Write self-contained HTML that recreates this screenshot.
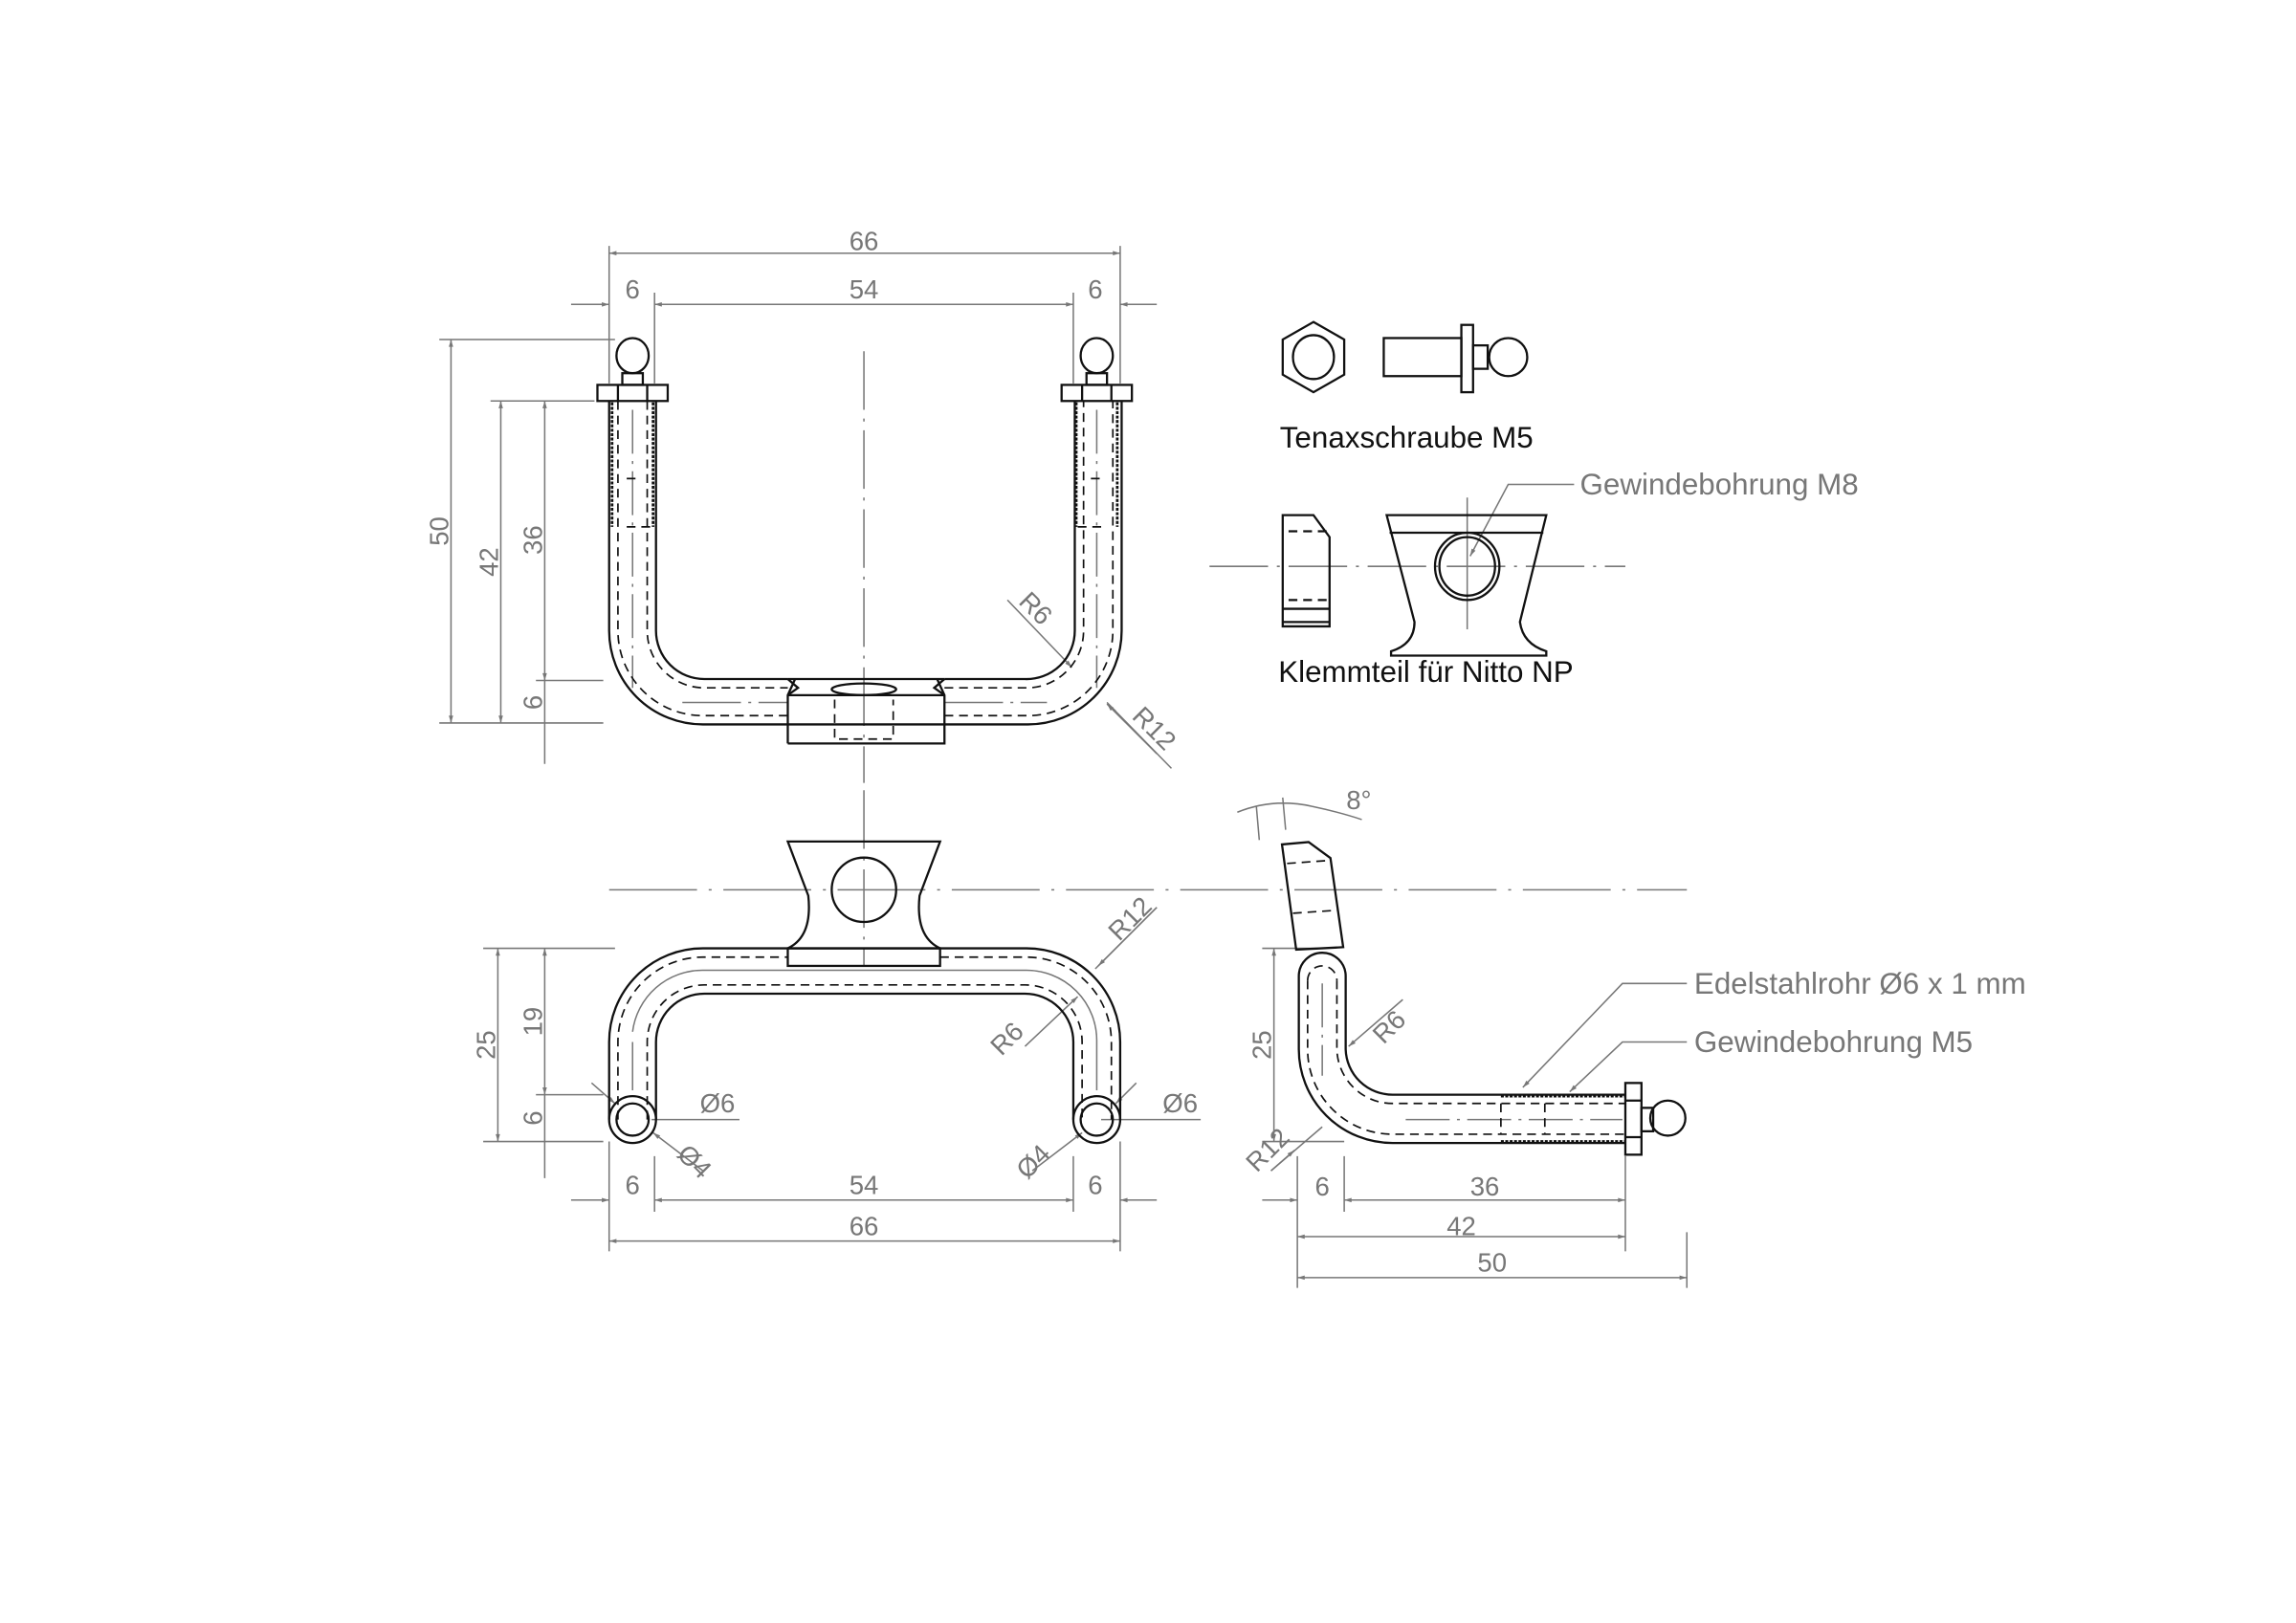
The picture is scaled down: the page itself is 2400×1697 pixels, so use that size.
<!DOCTYPE html>
<html><head><meta charset="utf-8"><style>
html,body{margin:0;padding:0;background:#fff;}
svg{display:block;}
text{font-family:"Liberation Sans",sans-serif;}
</style></head><body>
<svg width="2400" height="1697" viewBox="0 0 1568 1109" preserveAspectRatio="none" xmlns="http://www.w3.org/2000/svg">
<defs>
<marker id="a" viewBox="0 0 10 10" refX="10" refY="5" markerWidth="10" markerHeight="5" orient="auto-start-reverse" markerUnits="userSpaceOnUse"><path d="M0,2 L10,5 L0,8z" fill="#777"/></marker>
</defs>
<rect width="1568" height="1109" fill="#fff"/>
<g fill="none" stroke="#777" stroke-width="1">
<path d="M590,240 V535 M590,540 V660" stroke-dasharray="40,6,2,6"/>
<path d="M416,608 H1152" stroke-dasharray="60,8,2,8"/>
<path d="M826,387 H1110" stroke-dasharray="40,6,2,6"/>
<path d="M1002,340 V430"/>
<path d="M432,280 V470 M749,280 V470" stroke-dasharray="30,5,2,5"/>
<path d="M466,480 H538 M645,480 H715" stroke-dasharray="40,5,2,5"/>
<path d="M903,672 V735 M960,765 H1108" stroke-dasharray="30,5,2,5"/>
<path d="M432,705 A48 48 0 0 1 480 663 H700 A48 48 0 0 1 749 712 M432,712 V745 M749,712 V745"/>
</g>

<g stroke="#777" stroke-width="1" fill="none">
<path d="M416,168 V262 M765,168 V262 M447,200 V262 M733,200 V262"/>
<path d="M416,173 H765" marker-start="url(#a)" marker-end="url(#a)"/>
<path d="M390,208 H416" marker-end="url(#a)"/><path d="M447,208 H733" marker-start="url(#a)" marker-end="url(#a)"/><path d="M765,208 H790" marker-start="url(#a)"/>
<path d="M300,232 H420 M335,274 H406 M366,465 H412 M300,494 H412"/>
<path d="M308,232 V494" marker-start="url(#a)" marker-end="url(#a)"/>
<path d="M342,274 V494" marker-start="url(#a)" marker-end="url(#a)"/>
<path d="M372,274 V465" marker-start="url(#a)" marker-end="url(#a)"/>
<path d="M372,465 V494 M372,494 V522"/>
<path d="M688,410 L732,456" marker-end="url(#a)"/>
<path d="M756,480 L800,525 M756,480 L762,486" />
<path d="M790,515 L756,481" marker-end="url(#a)"/>
<path d="M330,648 H420 M366,748 H412 M330,780 H412"/>
<path d="M340,648 V780" marker-start="url(#a)" marker-end="url(#a)"/>
<path d="M372,648 V748" marker-start="url(#a)" marker-end="url(#a)"/>
<path d="M372,748 V780 M372,780 V805"/>
<path d="M416,780 V855 M765,780 V855 M447,790 V828 M733,790 V828"/>
<path d="M390,820 H416" marker-end="url(#a)"/><path d="M447,820 H733" marker-start="url(#a)" marker-end="url(#a)"/><path d="M765,820 H790" marker-start="url(#a)"/>
<path d="M416,848 H765" marker-start="url(#a)" marker-end="url(#a)"/>
<path d="M790,620 L748,662" /><path d="M790,620 L750,660" marker-end="url(#a)"/>
<path d="M700,715 L736,681" marker-end="url(#a)"/>
<path d="M404,740 L420,754" marker-end="url(#a)"/>
<path d="M480,800 L446,774" marker-end="url(#a)"/>
<path d="M705,800 L739,774" marker-end="url(#a)"/>
<path d="M776,740 L762,754" marker-end="url(#a)"/>
<path d="M445,765 H505 M752,765 H820"/>
<path d="M862,648 H905 M862,780 H918"/>
<path d="M870,648 V780" marker-start="url(#a)" marker-end="url(#a)"/>
<path d="M886,790 V880 M918,790 V828 M1110,790 V855 M1152,842 V880"/>
<path d="M862,820 H886" marker-end="url(#a)"/><path d="M918,820 H1110" marker-start="url(#a)" marker-end="url(#a)"/>
<path d="M886,845 H1110" marker-start="url(#a)" marker-end="url(#a)"/>
<path d="M886,873 H1152" marker-start="url(#a)" marker-end="url(#a)"/>
<path d="M958,683 L921,715" marker-end="url(#a)"/>
<path d="M868,800 L903,770"/><path d="M868,800 L884,786" marker-end="url(#a)"/>
<path d="M845,555 Q870,545 896,551 M858,551 L860,574 M876,545 L878,567 M896,551 Q915,555 930,560"/>
<path d="M1152,672 H1108 L1040,743" marker-end="url(#a)"/>
<path d="M1152,712 H1108 L1072,746" marker-end="url(#a)"/>
<path d="M1075,331 H1030 L1004,380" marker-end="url(#a)"/>
</g>

<g fill="#777" font-size="18" text-anchor="middle">
<text x="590" y="171">66</text>
<text x="432" y="204">6</text><text x="590" y="204">54</text><text x="748" y="204">6</text>
<text transform="translate(306,363) rotate(-90)">50</text>
<text transform="translate(340,384) rotate(-90)">42</text>
<text transform="translate(370,369) rotate(-90)">36</text>
<text transform="translate(370,480) rotate(-90)">6</text>
<text transform="translate(703,420) rotate(45)">R6</text>
<text transform="translate(784,502) rotate(45)">R12</text>
<text transform="translate(338,714) rotate(-90)">25</text>
<text transform="translate(370,698) rotate(-90)">19</text>
<text transform="translate(370,764) rotate(-90)">6</text>
<text x="432" y="816">6</text><text x="590" y="816">54</text><text x="748" y="816">6</text>
<text x="590" y="844">66</text>
<text transform="translate(776,632) rotate(-45)">R12</text>
<text transform="translate(692,714) rotate(-45)">R6</text>
<text transform="translate(470,798) rotate(45)">Ø4</text>
<text transform="translate(710,798) rotate(-45)">Ø4</text>
<text x="490" y="760">Ø6</text><text x="806" y="760">Ø6</text>
<text transform="translate(868,714) rotate(-90)">25</text>
<text transform="translate(953,706) rotate(-45)">R6</text>
<text transform="translate(870,790) rotate(-45)">R12</text>
<text x="903" y="817">6</text><text x="1014" y="817">36</text>
<text x="998" y="844">42</text><text x="1019" y="869">50</text>
<text x="928" y="553">8°</text>
</g>
<g fill="#777" font-size="20.5">
<text x="1079" y="338">Gewindebohrung M8</text>
<text x="1157" y="679">Edelstahlrohr Ø6 x 1 mm</text>
<text x="1157" y="719">Gewindebohrung M5</text>
</g>
<g fill="#111" font-size="20.5">
<text x="874" y="306">Tenaxschraube M5</text>
<text x="873" y="466">Klemmteil für Nitto NP</text>
</g>

<g fill="none" stroke="#111" stroke-width="1.5">
<path d="M416,274 V431 A64,64 0 0 0 480,495 H538 M645,495 H702 A64,64 0 0 0 766,431 V274"/>
<path d="M448,274 V431 A33,33 0 0 0 481,464 H538 M645,464 H700 A33,33 0 0 0 734,431 V274"/>
<rect x="408" y="263" width="48" height="11"/><path d="M422,263 V274 M442,263 V274"/>
<rect x="425" y="255" width="14" height="8"/><ellipse cx="432" cy="243" rx="11" ry="12"/>
<rect x="725" y="263" width="48" height="11"/><path d="M739,263 V274 M759,263 V274"/>
<rect x="742" y="255" width="14" height="8"/><ellipse cx="749" cy="243" rx="11" ry="12"/>
<path d="M538,464 H645 M538,508 H645 V475 L640,464 M538,508 V475 L543,464 M538,475 H645 M538,495 H645"/>
<path d="M538,464 L545,470 L538,475 M645,464 L638,470 L645,475"/>
<ellipse cx="590" cy="471" rx="22" ry="4"/>
<polygon points="897,220 918,232 918,256 897,268 876,256 876,232"/>
<ellipse cx="897" cy="244" rx="14" ry="15"/>
<rect x="945" y="231" width="53" height="26"/>
<rect x="998" y="222" width="8" height="46"/>
<rect x="1006" y="236" width="10" height="16"/>
<circle cx="1030" cy="244" r="13"/>
<path d="M876,352 H897 L908,367 V428 H876 Z M876,416 H908 M876,425 H908"/>
<path d="M880,363 H906 M880,410 H906" stroke-dasharray="6,4"/>
<path d="M947,352 H1056 L1038,425 Q1040,440 1056,445 V448 H950 V445 Q966,440 966,425 Z M949,364 H1054"/>
<ellipse cx="1002" cy="387" rx="22" ry="23"/><ellipse cx="1002" cy="387" rx="19" ry="20"/>
<path d="M538,575 H642 L628,612 Q625,640 642,648 H538 Q555,640 552,612 Z"/>
<rect x="538" y="648" width="104" height="12"/>
<circle cx="590" cy="608" r="22"/>
<path d="M416,765 V712 A64,64 0 0 1 480,648 H538 M642,648 H700 A64,64 0 0 1 765,712 V765"/>
<path d="M448,765 V712 A33,33 0 0 1 481,679 H700 A33,33 0 0 1 733,712 V765"/>
<circle cx="432" cy="765" r="16"/><circle cx="432" cy="765" r="11"/>
<circle cx="749" cy="765" r="16"/><circle cx="749" cy="765" r="11"/>
<path d="M875.5,577 L893.7,575.4 L908.6,586.3 L917.3,647.2 L885.2,648.9 Z"/>
<path d="M887,667 V717 A64,64 0 0 0 951,781 H1110 M919,667 V717 A32,32 0 0 0 951,748 H1110 M887,667 A16,16 0 0 1 919,667"/>
<rect x="1110" y="740" width="11" height="49"/><path d="M1110,752 H1121 M1110,777 H1121"/>
<rect x="1121" y="757" width="8" height="16"/>
<circle cx="1139" cy="764" r="12"/>
</g>
<g fill="none" stroke="#111" stroke-width="1.1" stroke-dasharray="6,4">
<path d="M422,274 V431 A58,58 0 0 0 480,489 H538 M645,489 H702 A58,58 0 0 0 760,431 V274"/>
<path d="M442,274 V431 A39,39 0 0 0 481,470 H538 M645,470 H700 A39,39 0 0 0 740,431 V274"/>
<path d="M428,327 H438 M428,360 H446 M745,327 H755 M736,360 H754"/>
<path d="M570,478 V505 H610 V478"/>
<path d="M422,765 V712 A58,58 0 0 1 480,654 H538 M642,654 H700 A58,58 0 0 1 759,712 V765"/>
<path d="M442,765 V712 A39,39 0 0 1 481,673 H700 A39,39 0 0 1 739,712 V765"/>
<path d="M893,670 V717 A58,58 0 0 0 951,775 H1110 M913,670 V717 A38,38 0 0 0 951,754 H1110"/>
<path d="M893,670 A10,10 0 0 1 913,670"/>
<path d="M879,590 L907,588 M883,624 L913,622"/>
<path d="M1025,754 V775 M1055,754 V775"/>
</g>
<g fill="none" stroke="#111" stroke-width="1.8">
<path d="M418,275 V360 M446,275 V360 M735,275 V360 M763,275 V360 M1025,749 H1110 M1025,780 H1110" stroke-dasharray="2,1"/>
</g>
</svg>
</body></html>
